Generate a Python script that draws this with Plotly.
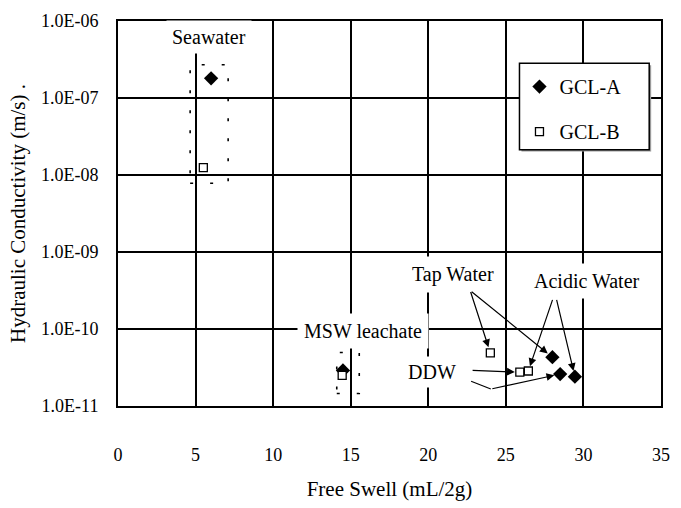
import math
import plotly.graph_objects as go

# Free swell (mL/2g) and hydraulic conductivity (m/s) for each permeant
permeants = ["Seawater", "MSW leachate", "Tap Water", "DDW", "Acidic Water"]
gcl_a_swell = [6.0, 14.5, 28.0, 28.5, 29.45]
gcl_a_k = [1.8e-7, 2.9e-11, 4.3e-11, 2.6e-11, 2.4e-11]
gcl_b_swell = [5.5, 14.45, 24.0, 25.9, 26.45]
gcl_b_k = [1.25e-8, 2.5e-11, 4.9e-11, 2.75e-11, 2.85e-11]

# Scatter range of the seawater and leachate tests (dashed boxes)
band_swell_lo = [4.65, 14.1]
band_swell_hi = [7.1, 15.55]
band_k_lo = [7.8e-9, 1.45e-11]
band_k_hi = [2.7e-7, 4.95e-11]

x_ticks = [0, 5, 10, 15, 20, 25, 30, 35]
y_ticks = [1e-11, 1e-10, 1e-9, 1e-8, 1e-7, 1e-6]
y_tick_text = ["1.0E-11", "1.0E-10", "1.0E-09", "1.0E-08", "1.0E-07", "1.0E-06"]

SERIF = "Liberation Serif, Times New Roman, serif"
lg = math.log10

W, H = 681, 508
M_L, M_R, M_T, M_B = 117.5, 11, 13, 85
PLOT_W, PLOT_H = W - M_L - M_R, H - M_T - M_B


def px_to_paper(px, py):
    return (px - M_L) / PLOT_W, 1 - (py - M_T) / PLOT_H


fig = go.Figure()

# dashed boxes around the repeated tests
for x0, x1, y0, y1 in zip(band_swell_lo, band_swell_hi, band_k_lo, band_k_hi):
    fig.add_shape(type="rect", xref="x", yref="y", x0=x0, x1=x1, y0=y0, y1=y1,
                  line=dict(color="black", width=1.6, dash="3px,17px"),
                  fillcolor="rgba(0,0,0,0)", layer="above")

# legend frame with a thin drop shadow
lx0, ly0 = px_to_paper(526, 58)
lx1, ly1 = px_to_paper(658, 150)
sx0, sy0 = px_to_paper(528, 60)
sx1, sy1 = px_to_paper(660, 152)
fig.add_shape(type="rect", xref="paper", yref="paper", x0=sx0, x1=sx1,
              y0=sy1, y1=sy0, line=dict(width=0), fillcolor="#9a9a9a",
              layer="above")
fig.add_shape(type="rect", xref="paper", yref="paper", x0=lx0, x1=lx1,
              y0=ly1, y1=ly0, line=dict(color="black", width=1.5),
              fillcolor="white", layer="above")

fig.add_trace(go.Scatter(
    x=gcl_a_swell, y=gcl_a_k, mode="markers", name="GCL-A",
    legendgroup="a", text=permeants,
    marker=dict(symbol="diamond", size=11, color="black",
                line=dict(color="black", width=0)),
))
fig.add_trace(go.Scatter(
    x=gcl_b_swell, y=gcl_b_k, mode="markers", name="GCL-B",
    legendgroup="b", text=permeants,
    marker=dict(symbol="square", size=8, color="white",
                line=dict(color="black", width=1.3)),
))

font_lbl = dict(family=SERIF, size=20, color="black")
annotations = []


def label(text, x, y, pad=5):
    annotations.append(dict(text=text, x=x, y=lg(y), xref="x", yref="y",
                            showarrow=False, font=font_lbl, bgcolor="white",
                            borderpad=pad))


def arrow(tail, head, standoff=5):
    annotations.append(dict(text="", x=head[0], y=lg(head[1]), xref="x", yref="y",
                            ax=tail[0], ay=lg(tail[1]), axref="x", ayref="y",
                            showarrow=True, arrowhead=2, arrowsize=1.3,
                            arrowwidth=1.2, arrowcolor="black",
                            standoff=standoff))


label("Seawater", 5.87, 6.2e-7)
label("MSW leachate", 15.8, 9.5e-11, pad=6)
label("Tap Water", 21.6, 5.1e-10, pad=6)
label("Acidic Water", 30.26, 4.2e-10, pad=6)
label("DDW", 20.23, 2.75e-11, pad=4)

# Tap water
arrow((22.7, 3.16e-10), (gcl_b_swell[2], gcl_b_k[2]), 6)
arrow((22.7, 3.16e-10), (gcl_a_swell[2], gcl_a_k[2]), 6)
# Acidic water
arrow((28.04, 2.5e-10), (gcl_b_swell[4], gcl_b_k[4]), 5)
arrow((28.25, 2.5e-10), (gcl_a_swell[4], gcl_a_k[4]), 6)
# DDW
arrow((22.76, 2.9e-11), (gcl_b_swell[3], gcl_b_k[3]), 5)
fig.add_shape(type="line", xref="x", yref="y", x0=22.76, y0=2.1e-11,
              x1=24.03, y1=1.66e-11, line=dict(color="black", width=1.2))
arrow((24.03, 1.66e-11), (gcl_a_swell[3], gcl_a_k[3]), 6)

fig.update_layout(
    width=W, height=H,
    margin=dict(l=M_L, r=M_R, t=M_T, b=M_B),
    paper_bgcolor="white", plot_bgcolor="white",
    font=dict(family=SERIF, color="black", size=18),
    annotations=annotations,
    showlegend=True,
    legend=dict(x=lx0, y=ly0 - 0.01, xanchor="left", yanchor="top",
                bgcolor="rgba(0,0,0,0)", borderwidth=0,
                font=dict(family=SERIF, size=20, color="black"),
                tracegroupgap=16, itemwidth=30),
    xaxis=dict(range=[0, 35], tickvals=x_ticks, showgrid=True,
               gridcolor="black", gridwidth=1.6, zeroline=False,
               showline=True, linecolor="black", linewidth=2, mirror=True,
               ticks="", ticklabelstandoff=31,
               tickfont=dict(family=SERIF, size=18),
               title=dict(text="Free Swell (mL/2g)",
                          font=dict(family=SERIF, size=21), standoff=18)),
    yaxis=dict(type="log", range=[-11, -6], tickvals=y_ticks,
               ticktext=y_tick_text, showgrid=True, gridcolor="black",
               gridwidth=1.6, zeroline=False, showline=True,
               linecolor="black", linewidth=2, mirror=True, ticks="",
               ticklabelstandoff=14,
               tickfont=dict(family=SERIF, size=18),
               title=dict(text="Hydraulic Conductivity (m/s) .",
                          font=dict(family=SERIF, size=21), standoff=10)),
)

fig.write_html("out.html")
